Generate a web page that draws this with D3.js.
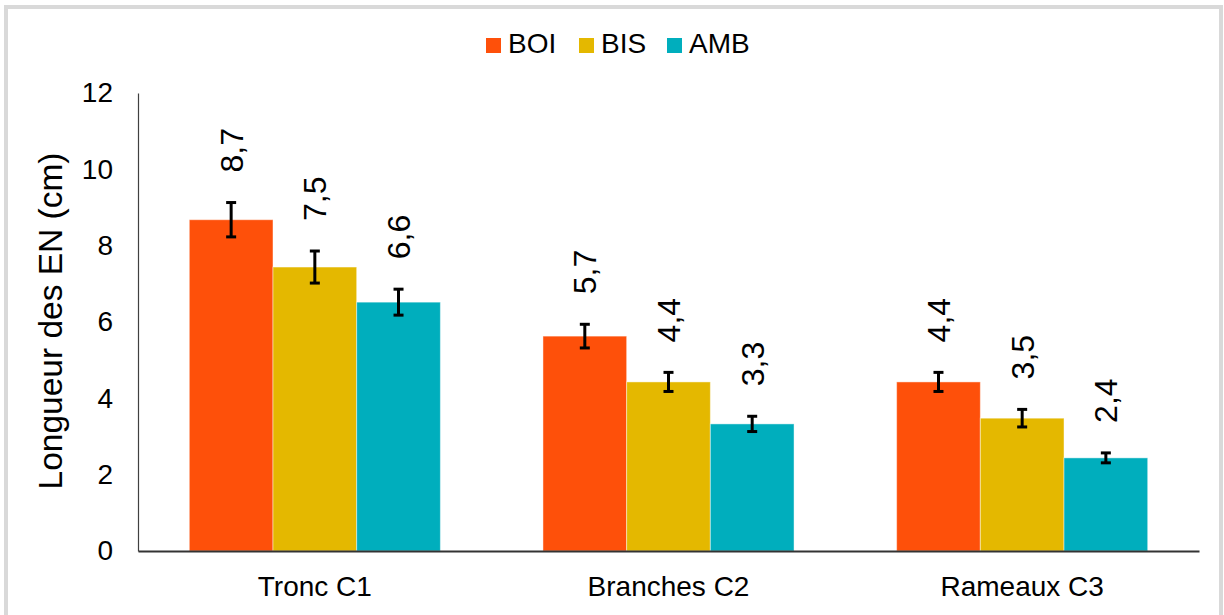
<!DOCTYPE html>
<html>
<head>
<meta charset="utf-8">
<script src="https://cdn.jsdelivr.net/npm/d3@7"></script>
<style>
  html, body { margin: 0; padding: 0; background: #fff; }
  svg { display: block; font-family: "Liberation Sans", Arial, sans-serif; }
</style>
</head>
<body>
<svg id="chart" width="1224" height="615"></svg>
<script>
const categories = ["Tronc C1", "Branches C2", "Rameaux C3"];
const seriesNames = ["BOI", "BIS", "AMB"];
const boiValues = [8.68, 5.63, 4.43];
const bisValues = [7.44, 4.43, 3.48];
const ambValues = [6.52, 3.33, 2.44];
const boiErrors = [0.45, 0.31, 0.25];
const bisErrors = [0.42, 0.25, 0.23];
const ambErrors = [0.34, 0.20, 0.13];
const boiLabels = ["8,7", "5,7", "4,4"];
const bisLabels = ["7,5", "4,4", "3,5"];
const ambLabels = ["6,6", "3,3", "2,4"];
const yTicks = [0, 2, 4, 6, 8, 10, 12];
const colors = ["#FE500A", "#E4B800", "#00AEBD"];

const series = [
  { name: seriesNames[0], values: boiValues, errors: boiErrors, labels: boiLabels, color: colors[0] },
  { name: seriesNames[1], values: bisValues, errors: bisErrors, labels: bisLabels, color: colors[1] },
  { name: seriesNames[2], values: ambValues, errors: ambErrors, labels: ambLabels, color: colors[2] }
];

const svg = d3.select("#chart");
const plotLeft = 138, plotRight = 1199, plotTop = 93, plotBottom = 551;

// outer frame
svg.append("rect").attr("x", 6).attr("y", 7).attr("width", 1215).attr("height", 640)
  .attr("fill", "none").attr("stroke", "#d9d9d9").attr("stroke-width", 4);

const x0 = d3.scaleBand().domain(categories).range([plotLeft, plotRight]).paddingInner(0).paddingOuter(0);
const x1 = d3.scaleBand().domain(seriesNames).range([0, x0.bandwidth()]).paddingInner(0).paddingOuter(0.613);
const y = d3.scaleLinear().domain([0, 12]).range([plotBottom, plotTop]);

// y tick labels
const yAxis = d3.axisLeft(y).tickValues(yTicks).tickSize(0).tickPadding(25).tickFormat(d3.format("d"));
const gy = svg.append("g").attr("transform", `translate(${plotLeft},0)`).call(yAxis);
gy.select(".domain").attr("stroke", "#404040").attr("stroke-width", 1.2);
gy.selectAll("text").attr("font-size", 28).attr("fill", "#000").attr("font-family", "Liberation Sans, Arial, sans-serif");

// bars
const flat = [];
series.forEach(s => categories.forEach((c, i) => flat.push({ s, c, i, v: s.values[i], e: s.errors[i], l: s.labels[i] })));

svg.append("g").selectAll("rect").data(flat).join("rect")
  .attr("x", d => x0(d.c) + x1(d.s.name))
  .attr("y", d => y(d.v))
  .attr("width", x1.bandwidth())
  .attr("height", d => y(0) - y(d.v))
  .attr("fill", d => d.s.color)
  .attr("stroke", "rgba(255,255,255,0.45)")
  .attr("stroke-width", 1);

// x axis
const xAxis = d3.axisBottom(x0).tickSize(0).tickPadding(25);
const gx = svg.append("g").attr("transform", `translate(0,${plotBottom})`).call(xAxis);
gx.select(".domain").attr("stroke", "#333").attr("stroke-width", 2);
gx.selectAll("text").attr("font-size", 28).attr("fill", "#000").attr("font-family", "Liberation Sans, Arial, sans-serif");

// error bars
const eg = svg.append("g").attr("stroke", "#000").attr("stroke-width", 3);
flat.forEach(d => {
  const cx = x0(d.c) + x1(d.s.name) + x1.bandwidth() / 2;
  eg.append("line").attr("x1", cx).attr("x2", cx).attr("y1", y(d.v + d.e)).attr("y2", y(d.v - d.e));
  eg.append("line").attr("x1", cx - 5).attr("x2", cx + 5).attr("y1", y(d.v + d.e)).attr("y2", y(d.v + d.e));
  eg.append("line").attr("x1", cx - 5).attr("x2", cx + 5).attr("y1", y(d.v - d.e)).attr("y2", y(d.v - d.e));
});

// data labels (rotated)
svg.append("g").selectAll("text").data(flat).join("text")
  .attr("transform", d => {
    const cx = x0(d.c) + x1(d.s.name) + x1.bandwidth() / 2;
    return `translate(${cx},${y(d.v + d.e) - 30}) rotate(-90)`;
  })
  .attr("dy", "0.36em")
  .attr("text-anchor", "start")
  .attr("font-size", 32)
  .attr("fill", "#000")
  .text(d => d.l);

// y axis title
svg.append("text")
  .attr("transform", `translate(62,${(plotTop + plotBottom) / 2 - 1}) rotate(-90)`)
  .attr("text-anchor", "middle")
  .attr("font-size", 33.5)
  .attr("fill", "#000")
  .text("Longueur des EN (cm)");

// legend
const legendX = [486, 579, 667];
const lg = svg.append("g");
series.forEach((s, i) => {
  lg.append("rect").attr("x", legendX[i]).attr("y", 38).attr("width", 15).attr("height", 15).attr("fill", s.color);
  lg.append("text").attr("x", legendX[i] + 22).attr("y", 53).attr("font-size", 28).attr("fill", "#000").text(s.name);
});
</script>
</body>
</html>
